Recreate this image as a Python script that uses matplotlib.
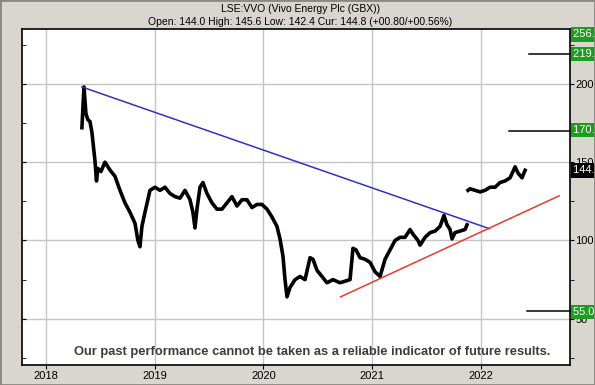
import numpy as np
import matplotlib.pyplot as plt
import matplotlib.lines as mlines
from matplotlib.patches import Rectangle
from matplotlib.transforms import blended_transform_factory

# price path (decimal year, pence)
years_a = [2018.331, 2018.350, 2018.368, 2018.386, 2018.405, 2018.423, 2018.437, 2018.451,
           2018.465, 2018.478, 2018.506, 2018.543, 2018.589, 2018.635, 2018.681, 2018.727,
           2018.773, 2018.819, 2018.846, 2018.865, 2018.883, 2018.911, 2018.957, 2019.003,
           2019.049, 2019.095, 2019.141, 2019.187, 2019.233, 2019.279, 2019.325, 2019.352,
           2019.371, 2019.389, 2019.417, 2019.444, 2019.481, 2019.527, 2019.573, 2019.619,
           2019.665, 2019.711, 2019.757, 2019.803, 2019.849, 2019.895, 2019.941, 2019.987,
           2020.033, 2020.079, 2020.125, 2020.153, 2020.180, 2020.199, 2020.217, 2020.245,
           2020.291, 2020.337, 2020.383, 2020.429, 2020.456, 2020.493, 2020.539, 2020.585,
           2020.640, 2020.705, 2020.751, 2020.797, 2020.824, 2020.852, 2020.889, 2020.935,
           2020.981, 2021.027, 2021.073, 2021.119, 2021.165, 2021.211, 2021.257, 2021.303,
           2021.349, 2021.376, 2021.422, 2021.441, 2021.487, 2021.533, 2021.579, 2021.625,
           2021.661, 2021.689, 2021.717, 2021.735, 2021.763, 2021.809, 2021.855, 2021.873]
price_a = [172, 198, 181, 177, 176, 169, 160, 151,
           138, 146, 144, 150, 145, 141, 132, 124,
           118, 111, 100, 96, 109, 118, 132, 134,
           132, 134, 130, 128, 127, 132, 126, 118,
           108, 120, 134, 137, 130, 124, 120, 120,
           124, 128, 122, 126, 126, 121, 123, 123,
           120, 115, 109, 101, 90, 75, 64, 70,
           75, 77, 75, 89, 88, 81, 77, 73,
           75, 73, 74, 75, 95, 94, 89, 88,
           86, 80, 77, 88, 94, 100, 102, 102,
           107, 104, 100, 97, 102, 105, 106, 109,
           116, 110, 107, 101, 105, 106, 107, 110]
years_b = [2021.882, 2021.901, 2021.947, 2021.993, 2022.039, 2022.085, 2022.131, 2022.177,
           2022.223, 2022.269, 2022.315, 2022.342, 2022.379, 2022.407]
price_b = [132, 133, 132, 131, 132, 134, 134, 137,
           138, 140, 147, 143, 140, 144.8]

# trend lines
blue_x = [2018.331, 2022.08]
blue_y = [198, 107.5]
red_x = [2020.71, 2022.72]
red_y = [64, 128.5]

# target levels
target_vals = [219, 170, 55]
target_start = [2022.44, 2022.26, 2022.42]
tag_text = ['256.', '219.', '170.', '55.0']
tag_vals = [256, 219, 170.6, 54.4]
cur_text = '144.'
cur_val = 144.8

year_ticks = [2018, 2019, 2020, 2021, 2022]
price_ticks = [50, 100, 150, 200]
minor_ticks = [25, 75, 125, 175, 225]

plt.rcParams['font.family'] = ['Liberation Sans', 'DejaVu Sans']

fig = plt.figure(figsize=(5.95, 3.85), dpi=100, facecolor='#d9d6cf')
fig.patches.append(Rectangle((0, 0), 1, 1, transform=fig.transFigure, fill=False,
                             edgecolor='#8a8782', linewidth=2))
ax = fig.add_axes([22 / 595, 1 - 365 / 385, 548 / 595, 336 / 385])
ax.set_facecolor('white')

ax.set_xlim(2017.78, 2022.82)
ax.set_ylim(20.5, 235)

for y in price_ticks:
    ax.axhline(y, color='#c4c4c4', linewidth=1, zorder=0)
for x in year_ticks:
    ax.axvline(x, color='#c4c4c4', linewidth=1, zorder=0)

ax.plot(years_a, price_a, color='black', linewidth=2.6, zorder=3)
ax.plot(years_b, price_b, color='black', linewidth=2.6, zorder=3)
ax.plot(blue_x, blue_y, color='#3030c8', linewidth=1.1, zorder=4)
ax.plot(red_x, red_y, color='#e8392e', linewidth=1.1, zorder=4)

for v, s in zip(target_vals, target_start):
    ax.plot([s, 2022.82], [v, v], color='black', linewidth=1.1, zorder=4, clip_on=False)

ax.set_xticks(year_ticks)
ax.set_xticklabels([str(y) for y in year_ticks], fontsize=8)
ax.tick_params(axis='x', length=3, direction='out', pad=1, color='black')
ax.yaxis.tick_right()
ax.set_yticks(price_ticks)
ax.set_yticks(minor_ticks, minor=True)
ax.set_yticklabels([str(y) for y in price_ticks], fontsize=8)
ax.tick_params(axis='y', which='both', length=3, direction='out', pad=1, right=True, left=True)
# left-hand ticks point into the plot
for t in ax.yaxis.get_major_ticks() + ax.yaxis.get_minor_ticks():
    t.tick1line.set_marker(mlines.TICKRIGHT)
for sp in ax.spines.values():
    sp.set_linewidth(1.2)

trans = blended_transform_factory(ax.transAxes, ax.transData)
ymax = ax.get_ylim()[1]
for t, v in zip(tag_text, tag_vals):
    v = min(v, ymax - 3.5)
    ax.text(1.006, v, t + '  ', transform=trans, color='white', fontsize=8, va='center',
            ha='left', zorder=10, clip_on=False,
            bbox=dict(boxstyle='square,pad=0.2', facecolor='#1e9c1e', edgecolor='none'))
ax.text(1.006, cur_val, cur_text + '  ', transform=trans, color='white', fontsize=8,
        va='center', ha='left', zorder=10, clip_on=False,
        bbox=dict(boxstyle='square,pad=0.2', facecolor='black', edgecolor='none'))

fig.text(0.505, 1 - 9 / 385, 'LSE:VVO (Vivo Energy Plc (GBX))', ha='center', va='center',
         fontsize=7.5)
fig.text(0.505, 1 - 22 / 385, 'Open: 144.0 High: 145.6 Low: 142.4 Cur: 144.8 (+00.80/+00.56%)',
         ha='center', va='center', fontsize=7.5)
ax.text(0.529, 0.04, 'Our past performance cannot be taken as a reliable indicator of future results.',
        transform=ax.transAxes, ha='center', va='center', fontsize=9.3, fontweight='bold',
        color='#3c3c3c')

fig.savefig('out.png', dpi=100, facecolor=fig.get_facecolor())
plt.close(fig)
